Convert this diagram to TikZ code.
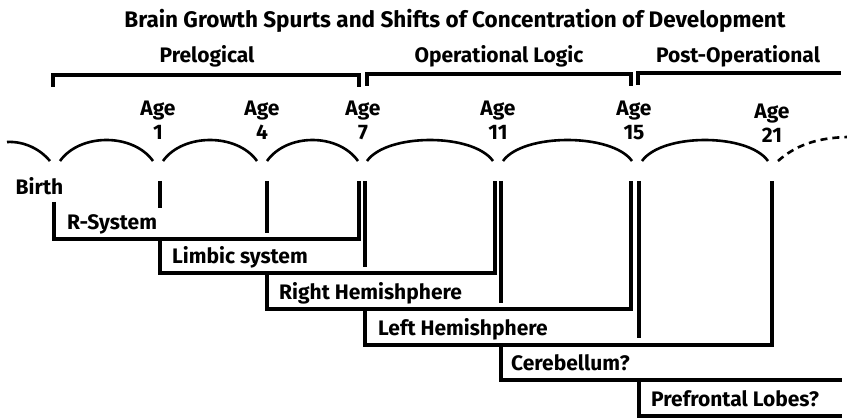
\documentclass[tikz,border=0pt]{standalone}
\usepackage{fontspec}
\setmainfont{Fira Sans}
\begin{document}
\begin{tikzpicture}[x=1pt,y=-1pt,
    lbl/.style={font=\bfseries\fontsize{21}{24}\selectfont, inner sep=0pt},
    heavy/.style={line width=3.2pt},
    spurt/.style={line width=2.6pt}]
  \useasboundingbox (0,0) rectangle (847,419);
  % title
  \node[lbl, font=\bfseries\fontsize{22.5}{26}\selectfont, anchor=base] (title) at (455,28) {Brain Growth Spurts and Shifts of Concentration of Development};
  % stages
  \node[lbl, anchor=base] (prelog) at (207,63) {Prelogical};
  \node[lbl, anchor=base] (oplog) at (499,63) {Operational Logic};
  \node[lbl, anchor=base] (postop) at (738,63) {Post-Operational};
  \draw[heavy] (53,87) -- (53,75) -- (359,75) -- (359,87);
  \draw[heavy] (367,86) -- (367,74) -- (631,74) -- (631,86);
  \draw[heavy] (638,85) -- (638,73) -- (841,73);
  % ages
  \foreach \n/\x/\dy in {1/158/0, 4/262/0, 7/363/0, 11/498/0, 15/634/0, 21/772/3} {
    \node[lbl, anchor=base] (age\n) at (\x,116+\dy) {Age};
    \node[lbl, anchor=base] (num\n) at (\x,140+\dy) {\n};
  }
  % growth spurts
  \draw[spurt] (7,142) .. controls (25,141) and (41,150) .. (50,161);
  \foreach \a/\b in {60/153, 163/257, 267/358, 367/493, 503/632, 642/768}
    \draw[spurt] (\a,161) .. controls +(20,-28) and +(-20,-28) .. (\b,161);
  \draw[spurt, dashed, dash pattern=on 7pt off 5pt] (778,161) .. controls (795,146) and (815,138) .. (847,137);
  % systems
  \node[lbl, anchor=base] (birth) at (39.5,195) {Birth};
  \node[lbl, anchor=base west] (rsys) at (67,230) {R-System};
  \draw[heavy] (54,202) -- (54,239) -- (359,239) -- (359,181);
  \node[lbl, anchor=base west] (limbic) at (172,264) {Limbic system};
  \draw[heavy] (160,181) -- (160,208) (160,239) -- (160,273) -- (495,273) -- (495,181);
  \node[lbl, anchor=base west] (righthem) at (279,300) {Right Hemishphere};
  \draw[heavy] (267,181) -- (267,233) (267,273) -- (267,309) -- (631,309) -- (631,181);
  \node[lbl, anchor=base west] (lefthem) at (378,336) {Left Hemishphere};
  \draw[heavy] (365,181) -- (365,267) (365,309) -- (365,345) -- (772,345) -- (772,181);
  \node[lbl, anchor=base west] (cereb) at (511,371) {Cerebellum?};
  \draw[heavy] (501,181) -- (501,303) (501,345) -- (501,380) -- (842,380);
  \node[lbl, anchor=base west] (prefront) at (651,407) {Prefrontal Lobes?};
  \draw[heavy] (639,181) -- (639,338) (639,380) -- (639,416) -- (842,416);
\end{tikzpicture}
\end{document}
